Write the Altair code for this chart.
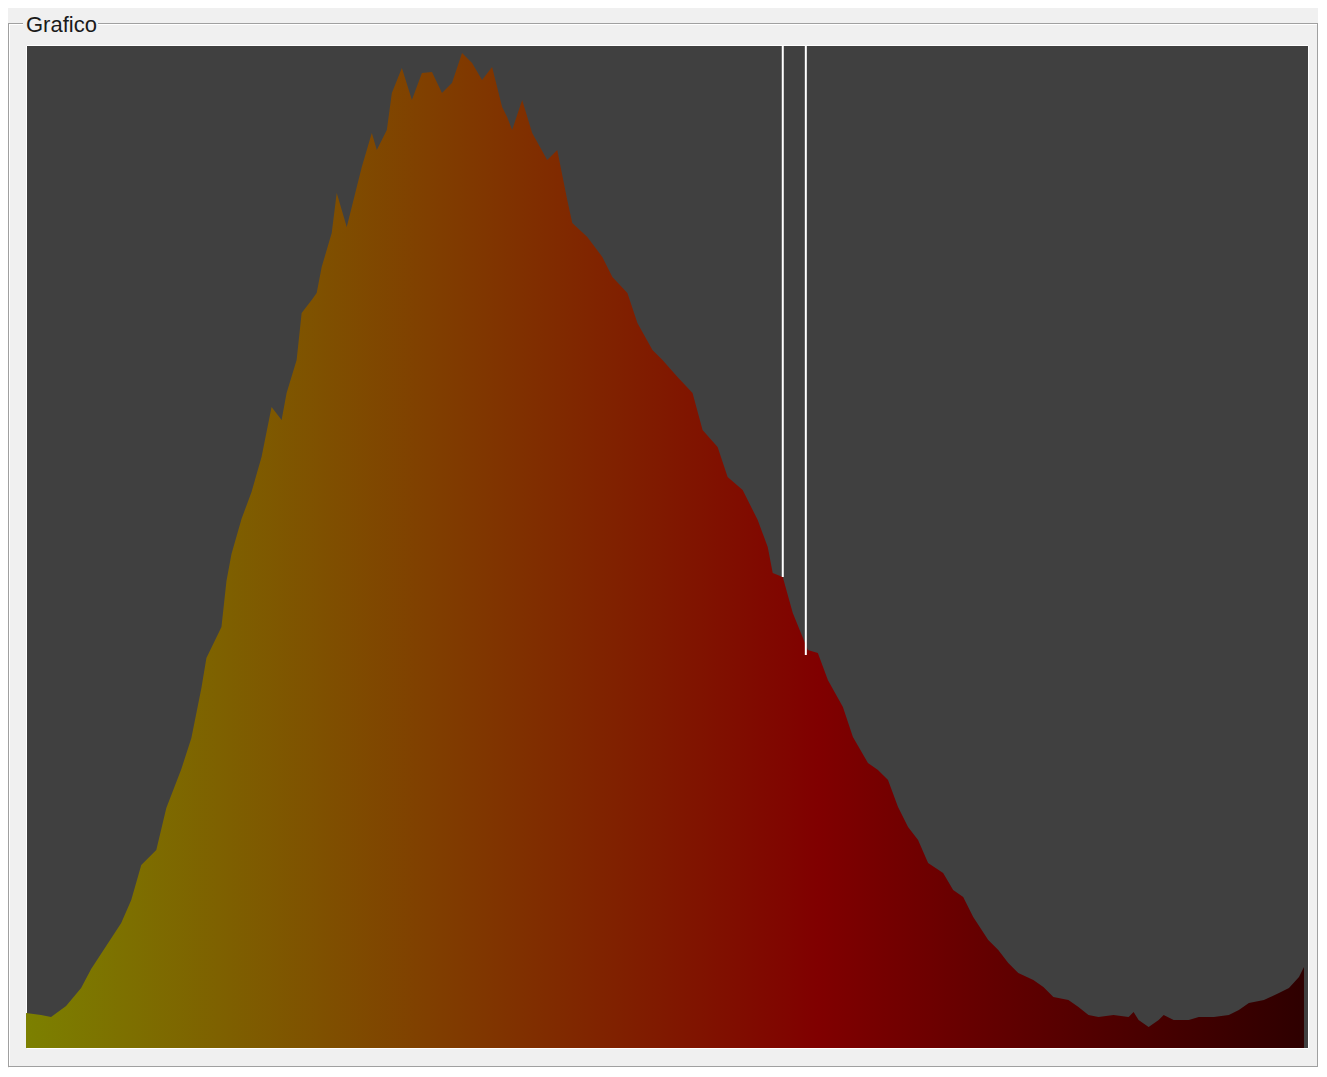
import altair as alt
import pandas as pd

# Histogram levels (0-255) and heights
levels = [0, 3, 5, 8, 11, 13, 16, 19, 21, 23, 26, 28, 31, 33, 35, 36, 39, 40, 41, 43,
          45, 47, 49, 51, 52, 54, 55, 57, 58, 59, 61, 62, 64, 65, 67, 69, 70, 72, 73, 75,
          77, 79, 81, 83, 85, 87, 89, 91, 93, 95, 96, 97, 99, 101, 104, 106, 108, 109, 112, 115,
          117, 120, 122, 125, 127, 130, 133, 135, 138, 140, 143, 146, 148, 149, 151, 153, 156, 158, 160, 163,
          165, 168, 170, 172, 174, 176, 178, 180, 183, 185, 187, 189, 192, 194, 196, 198, 201, 203, 205, 208,
          210, 212, 214, 217, 220, 221, 222, 224, 226, 227, 229, 232, 234, 237, 240, 242, 244, 247, 250, 252,
          254, 255]
counts = [35, 33, 31, 42, 60, 79, 102, 125, 148, 183, 198, 240, 279, 310, 360, 390, 421, 467, 494, 529,
          556, 591, 641, 628, 655, 688, 735, 748, 755, 781, 815, 855, 821, 841, 881, 915, 898, 918, 955, 980,
          948, 975, 976, 955, 965, 995, 985, 968, 981, 941, 931, 918, 948, 915, 888, 898, 848, 825, 811, 791,
          771, 755, 725, 698, 688, 671, 655, 618, 601, 571, 558, 528, 501, 475, 471, 435, 398, 395, 368, 341,
          311, 285, 278, 268, 241, 221, 208, 185, 175, 158, 151, 131, 108, 98, 85, 75, 68, 61, 51, 48,
          41, 33, 31, 33, 31, 36, 28, 21, 28, 33, 28, 28, 31, 31, 33, 38, 45, 48, 55, 60,
          71, 81]

# Marker lines (threshold positions) and the histogram height where they stop
marker_levels = [151, 155.6]
marker_counts = [471, 393]

Y_MAX = 1003
X_MAX = 255.8

hist = pd.DataFrame({"level": levels, "count": counts})
markers = pd.DataFrame({"level": marker_levels, "count": marker_counts,
                        "top": [Y_MAX] * len(marker_levels)})
one = pd.DataFrame({"k": [0]})

xscale = alt.Scale(domain=[0, X_MAX], nice=False, zero=False)
yscale = alt.Scale(domain=[0, Y_MAX], nice=False)

grad = alt.Gradient(
    gradient="linear",
    stops=[
        alt.GradientStop(color="#7c8000", offset=0),
        alt.GradientStop(color="#804000", offset=0.31),
        alt.GradientStop(color="#800000", offset=0.62),
        alt.GradientStop(color="#2e0000", offset=1),
    ],
    x1=0, x2=1, y1=0, y2=0,
)

area = alt.Chart(hist).mark_area(color=grad, interpolate="linear").encode(
    x=alt.X("level:Q", scale=xscale, axis=None),
    y=alt.Y("count:Q", scale=yscale, axis=None),
)

rules = alt.Chart(markers).mark_rule(color="#ffffff", strokeWidth=2).encode(
    x=alt.X("level:Q", scale=xscale, axis=None),
    y=alt.Y("top:Q", scale=yscale, axis=None),
    y2="count:Q",
)

def hline(x1, x2, y, color):
    return alt.Chart(one).mark_rule(color=color, strokeWidth=1).encode(
        x=alt.value(x1), x2=alt.value(x2), y=alt.value(y))

def vline(x, y1, y2, color):
    return alt.Chart(one).mark_rule(color=color, strokeWidth=1).encode(
        x=alt.value(x), y=alt.value(y1), y2=alt.value(y2))

GRAY = "#a0a0a0"
WHITE = "#ffffff"
frame = [
    hline(-18, -3, -21.5, GRAY), hline(-17, -3, -20.5, WHITE),
    hline(72, 1292, -21.5, GRAY), hline(72, 1291, -20.5, WHITE),
    vline(-17.5, -21.5, 1021.5, GRAY), vline(-16.5, -20.5, 1020.5, WHITE),
    vline(1291.5, -21.5, 1021.5, GRAY), vline(1292.5, -21.5, 1022.5, WHITE),
    hline(-18, 1292, 1021.5, GRAY), hline(-17, 1293, 1022.5, WHITE),
]

title = alt.Chart(one).mark_text(
    text="Grafico", font="Liberation Sans", fontSize=22, color="#1a1a1a",
    align="left", baseline="alphabetic"
).encode(x=alt.value(0), y=alt.value(-13))

chart = alt.layer(area, rules, *frame, title).properties(
    width=1282,
    height=1003,
    autosize=alt.AutoSizeParams(type="none"),
    padding={"left": 18, "top": 37, "right": 10, "bottom": 20},
    background="#f0f0f0",
).configure_view(fill="#404040", stroke="#ffffff", strokeWidth=1)

chart.save("out.html", embed_options={"renderer": "svg", "actions": False})
